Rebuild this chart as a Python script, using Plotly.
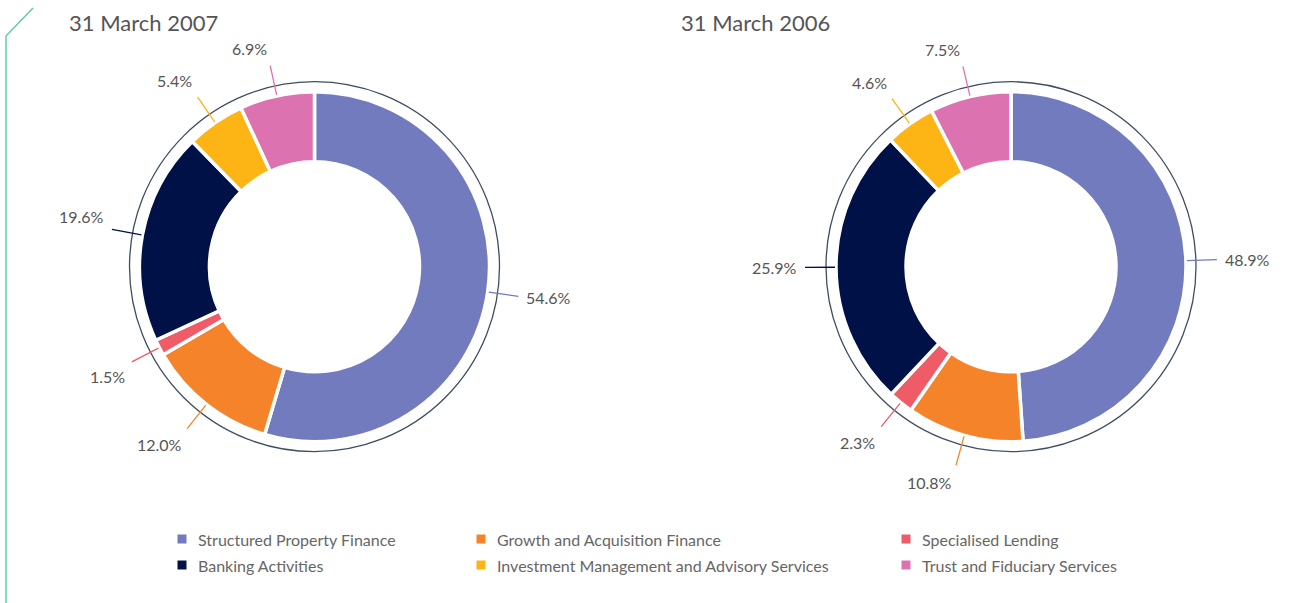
import math
import plotly.graph_objects as go

W, H = 1295, 603

categories = [
    "Structured Property Finance",
    "Growth and Acquisition Finance",
    "Specialised Lending",
    "Banking Activities",
    "Investment Management and Advisory Services",
    "Trust and Fiduciary Services",
]
colors = ["#717bbd", "#f5832a", "#ef5b66", "#001147", "#fdb515", "#dc72b0"]
values_2007 = [54.6, 12.0, 1.5, 19.6, 5.4, 6.9]
values_2006 = [48.9, 10.8, 2.3, 25.9, 4.6, 7.5]
titles = ["31 March 2007", "31 March 2006"]

# layout (pixels)
centers = [(314.5, 266.7), (1011.0, 266.7)]
R_PIE = 175.0
HOLE = 0.60
R_RING = 185.0
R_LINE0, R_LINE1 = 176.0, 206.0
R_LABEL = 212.0
TEXT_COLOR = "#555555"
FONT = "Lato"


def px(x):
    return x / W


def py(y):
    return 1 - y / H


fig = go.Figure()
shapes = []
annotations = []

for (cx, cy), vals, title in zip(centers, [values_2007, values_2006], titles):
    fig.add_trace(go.Pie(
        labels=categories, values=vals, sort=False, direction="clockwise",
        rotation=0, hole=HOLE, textinfo="none", hoverinfo="label+percent",
        marker=dict(colors=colors, line=dict(color="white", width=3.5)),
        domain=dict(x=[px(cx - R_PIE), px(cx + R_PIE)],
                    y=[py(cy + R_PIE), py(cy - R_PIE)]),
        showlegend=False,
    ))
    shapes.append(dict(type="circle", xref="paper", yref="paper",
                       x0=px(cx - R_RING), x1=px(cx + R_RING),
                       y0=py(cy + R_RING), y1=py(cy - R_RING),
                       line=dict(color="#3f4e5e", width=1.3)))
    total = sum(vals)
    cum = 0.0
    for v, col in zip(vals, colors):
        mid = (cum + v / 2) / total
        cum += v
        th = 2 * math.pi * mid
        dx, dy = math.sin(th), -math.cos(th)
        shapes.append(dict(type="line", xref="paper", yref="paper",
                           x0=px(cx + dx * R_LINE0), y0=py(cy + dy * R_LINE0),
                           x1=px(cx + dx * R_LINE1), y1=py(cy + dy * R_LINE1),
                           line=dict(color=col, width=1.3)))
        xa = "left" if dx > 0.2 else ("right" if dx < -0.2 else "center")
        ya = "top" if dy > 0.15 else ("bottom" if dy < -0.15 else "middle")
        annotations.append(dict(
            x=px(cx + dx * R_LABEL), y=py(cy + dy * R_LABEL),
            xref="paper", yref="paper", xanchor=xa, yanchor=ya,
            text=f"{v:.1f}%", showarrow=False,
            font=dict(family=FONT, size=16, color=TEXT_COLOR)))

# titles
annotations.append(dict(x=px(67), y=py(22), xref="paper", yref="paper",
                        xanchor="left", yanchor="middle", text=titles[0],
                        showarrow=False,
                        font=dict(family=FONT, size=22, color=TEXT_COLOR)))
annotations.append(dict(x=px(679), y=py(22), xref="paper", yref="paper",
                        xanchor="left", yanchor="middle", text=titles[1],
                        showarrow=False,
                        font=dict(family=FONT, size=22, color=TEXT_COLOR)))

# manual legend (3 columns x 2 rows)
col_x = [182, 481, 906]
row_y = [539, 565]
for i, (name, col) in enumerate(zip(categories, colors)):
    r, c = divmod(i, 3)
    mx, my = col_x[c], row_y[r]
    shapes.append(dict(type="rect", xref="paper", yref="paper",
                       x0=px(mx - 4.5), x1=px(mx + 4.5),
                       y0=py(my + 4.5), y1=py(my - 4.5),
                       fillcolor=col, line=dict(width=0)))
    annotations.append(dict(x=px(mx + 14), y=py(my), xref="paper", yref="paper",
                            xanchor="left", yanchor="middle", text=name,
                            showarrow=False,
                            font=dict(family=FONT, size=16, color="#666666")))

# decorative green corner line
shapes.append(dict(type="path", xref="paper", yref="paper",
                   path=f"M {px(33)},{py(8)} L {px(6)},{py(36)} L {px(6)},{py(603)}",
                   line=dict(color="#62cba6", width=1.5)))

fig.update_layout(
    width=W, height=H, margin=dict(l=0, r=0, t=0, b=0),
    paper_bgcolor="white", plot_bgcolor="white",
    shapes=shapes, annotations=annotations, showlegend=False,
)

fig.write_html("out.html", config={"displayModeBar": False})

# remove the default page margin so the figure fills the window exactly
with open("out.html", "r", encoding="utf-8") as f:
    html = f.read()
html = html.replace("<body>", '<body style="margin:0;padding:0;overflow:hidden">', 1)
with open("out.html", "w", encoding="utf-8") as f:
    f.write(html)
